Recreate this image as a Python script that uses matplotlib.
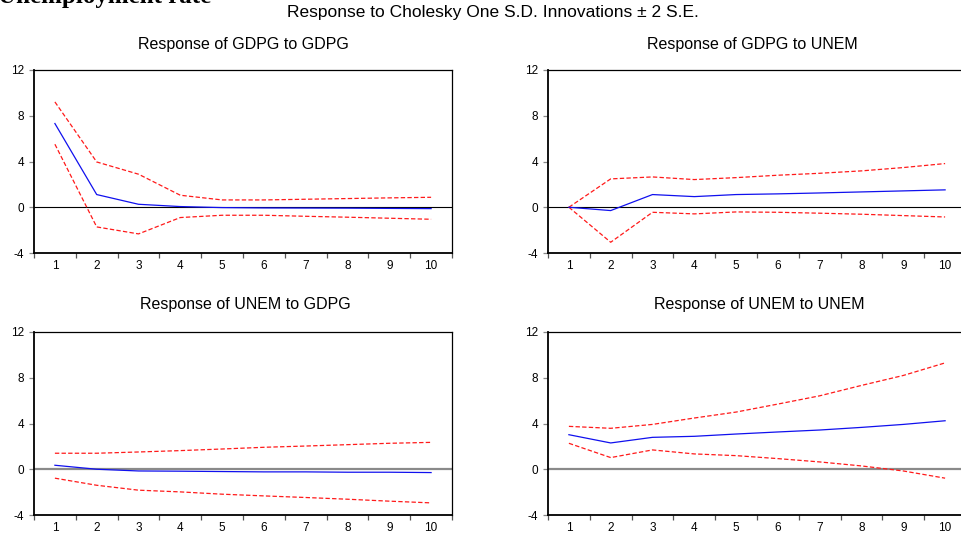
import matplotlib
matplotlib.use("Agg")
import matplotlib.pyplot as plt
from matplotlib.ticker import FixedLocator, NullFormatter

plt.rcParams['font.family'] = ['Liberation Sans', 'DejaVu Sans']

periods = [1, 2, 3, 4, 5, 6, 7, 8, 9, 10]
period_labels = ["1", "2", "3", "4", "5", "6", "7", "8", "9", "10"]

# Response of GDPG to GDPG
gg_resp = [7.32, 1.11, 0.26, 0.06, -0.03, -0.06, -0.07, -0.08, -0.10, -0.12]
gg_upper = [9.21, 3.96, 2.89, 1.05, 0.64, 0.64, 0.70, 0.76, 0.82, 0.87]
gg_lower = [5.51, -1.72, -2.33, -0.90, -0.70, -0.70, -0.79, -0.87, -0.96, -1.05]

# Response of GDPG to UNEM
gu_resp = [0.0, -0.29, 1.11, 0.93, 1.11, 1.17, 1.25, 1.34, 1.43, 1.52]
gu_upper = [0.0, 2.48, 2.65, 2.42, 2.59, 2.80, 2.97, 3.18, 3.47, 3.82]
gu_lower = [0.0, -3.06, -0.44, -0.58, -0.41, -0.44, -0.52, -0.61, -0.73, -0.85]

# Response of UNEM to GDPG
ug_resp = [0.35, 0.0, -0.15, -0.17, -0.20, -0.23, -0.23, -0.26, -0.26, -0.29]
ug_upper = [1.40, 1.40, 1.51, 1.63, 1.77, 1.92, 2.03, 2.15, 2.27, 2.35]
ug_lower = [-0.78, -1.40, -1.83, -1.98, -2.18, -2.33, -2.47, -2.62, -2.79, -2.94]

# Response of UNEM to UNEM
uu_resp = [3.02, 2.30, 2.79, 2.88, 3.08, 3.26, 3.43, 3.66, 3.92, 4.24]
uu_upper = [3.75, 3.58, 3.92, 4.48, 5.00, 5.70, 6.42, 7.33, 8.20, 9.30]
uu_lower = [2.27, 1.02, 1.69, 1.34, 1.19, 0.93, 0.64, 0.29, -0.15, -0.78]

titles = ["Response of GDPG to GDPG", "Response of GDPG to UNEM",
          "Response of UNEM to GDPG", "Response of UNEM to UNEM"]
yticks = [-4, 0, 4, 8, 12]
suptitle = "Response to Cholesky One S.D. Innovations \u00b1 2 S.E."
corner_text = "Unemployment rate"

W, H = 962, 533
fig = plt.figure(figsize=(W / 100, H / 100), dpi=100)


def px_axes(x0, y_top, x1, y_bot):
    return fig.add_axes([x0 / W, 1 - y_bot / H, (x1 - x0) / W, (y_bot - y_top) / H])


panels = [
    (px_axes(34, 70, 452, 253), gg_resp, gg_upper, gg_lower, 'top', (243, 45)),
    (px_axes(548, 70, 966, 253), gu_resp, gu_upper, gu_lower, 'top', (752, 45)),
    (px_axes(34, 332, 452, 515), ug_resp, ug_upper, ug_lower, 'bot', (245, 304)),
    (px_axes(548, 332, 966, 515), uu_resp, uu_upper, uu_lower, 'bot', (759, 304)),
]

for (ax, resp, up, lo, row, tpos), title in zip(panels, titles):
    if row == 'top':
        ax.axhline(0, color='black', lw=0.8, zorder=1)
    else:
        ax.axhline(0, color='#8a8a8a', lw=1.6, zorder=1)
    ax.plot(periods, up, color='#ff1a1a', lw=0.9, ls=(0, (3.5, 1.8)), zorder=2)
    ax.plot(periods, lo, color='#ff1a1a', lw=0.9, ls=(0, (3.5, 1.8)), zorder=2)
    ax.plot(periods, resp, color='#1010ee', lw=0.9, zorder=3)
    ax.set_xlim(0.5, 10.5)
    ax.set_ylim(-4, 12)
    ax.set_yticks(yticks)
    ax.set_yticklabels([str(v) for v in yticks])
    ax.xaxis.set_major_locator(FixedLocator([p - 0.5 for p in periods] + [10.5]))
    ax.xaxis.set_major_formatter(NullFormatter())
    ax.xaxis.set_minor_locator(FixedLocator(periods))
    ax.set_xticklabels(period_labels, minor=True)
    ax.tick_params(axis='x', which='major', direction='out', length=3.5,
                   width=0.9, color='#555555')
    ax.tick_params(axis='x', which='minor', length=0, pad=5, labelsize=8.5)
    ax.tick_params(axis='y', direction='out', length=3.5, width=0.9,
                   color='#888888', pad=3.5, labelsize=8.5)
    for s in ax.spines.values():
        s.set_color('black')
        s.set_linewidth(0.9)
    ax.spines['left'].set_linewidth(1.3)
    ax.spines['bottom'].set_linewidth(1.3)
    fig.text(tpos[0] / W, 1 - tpos[1] / H, title, ha='center', va='center',
             fontsize=11.5)

fig.text(493 / W, 1 - 13 / H, suptitle, ha='center', va='center', fontsize=12.5)
fig.text(-2 / W, 1 - 3 / H, corner_text, ha='left', va='baseline',
         fontsize=18, fontweight='bold', family=['Liberation Serif', 'DejaVu Serif'])

fig.savefig("out.png", dpi=100)
